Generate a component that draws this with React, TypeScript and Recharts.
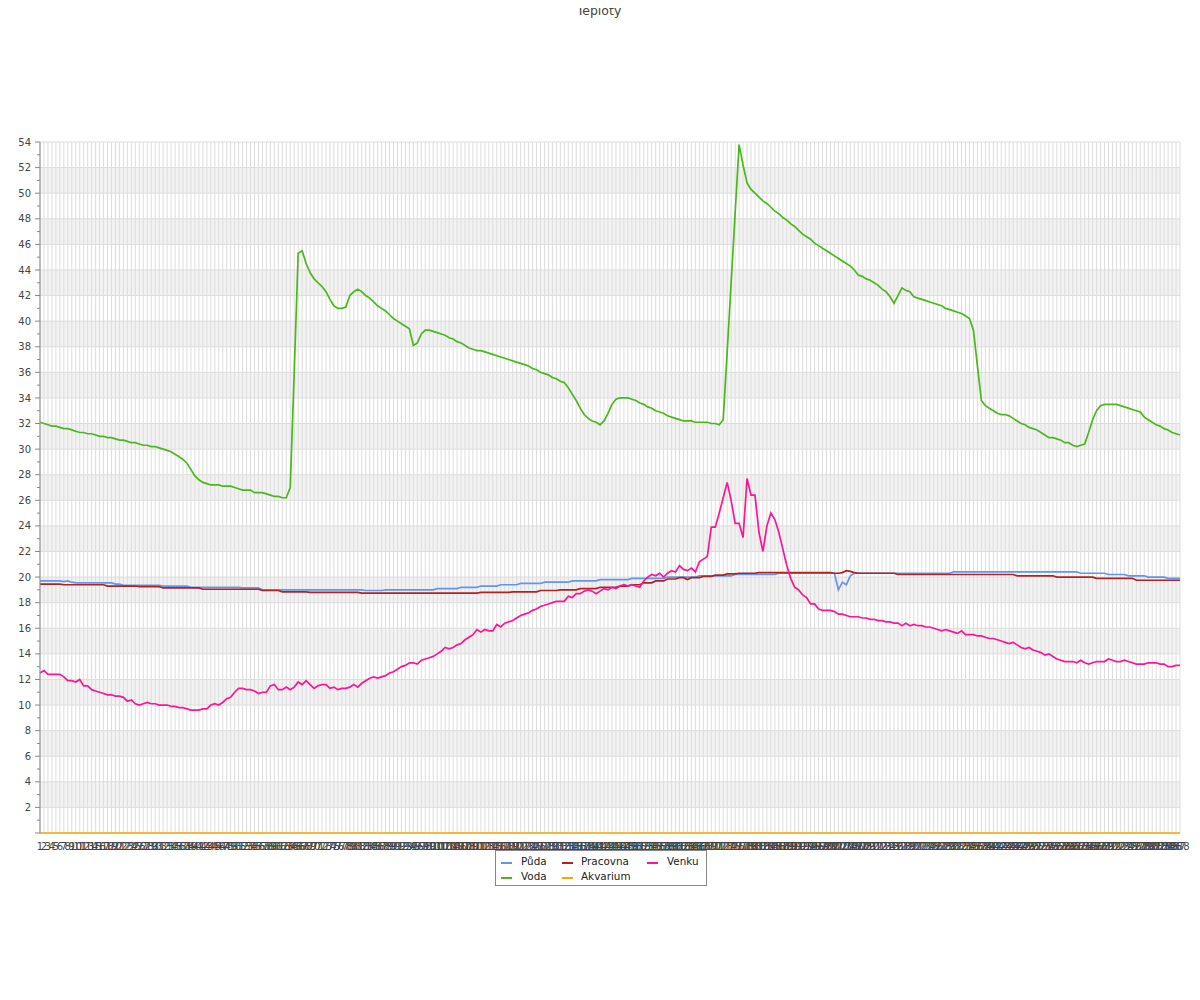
import React from 'react';
import { LineChart, Line, XAxis, YAxis, CartesianGrid } from 'recharts';

const labels: string[] = Array.from({ length: 288 }, (_, i) => String(i + 1));

const yTicks = [0,1,2,3,4,5,6,7,8,9,10,11,12,13,14,15,16,17,18,19,20,21,22,23,24,25,26,27,28,29,30,31,32,33,34,35,36,37,38,39,40,41,42,43,44,45,46,47,48,49,50,51,52,53,54];
const gridValues = [0,2,4,6,8,10,12,14,16,18,20,22,24,26,28,30,32,34,36,38,40,42,44,46,48,50,52,54];

const puda = [
  19.7,19.7,19.7,19.7,19.7,19.7,19.65,19.7,19.6,19.55,
  19.55,19.55,19.55,19.55,19.55,19.55,19.55,19.55,19.55,19.45,
  19.45,19.35,19.35,19.35,19.35,19.35,19.35,19.35,19.35,19.35,
  19.35,19.3,19.3,19.3,19.3,19.3,19.3,19.3,19.2,19.2,
  19.2,19.2,19.2,19.2,19.2,19.2,19.2,19.2,19.2,19.2,
  19.2,19.15,19.15,19.15,19.15,19.15,19.0,19.0,19.0,19.0,
  19.0,19.0,19.0,19.0,19.0,19.0,19.0,19.0,19.0,19.0,
  19.0,19.0,19.0,19.0,19.0,19.0,19.0,19.0,19.0,19.0,
  19.0,19.0,18.95,18.95,18.95,18.95,18.95,19.0,19.0,19.0,
  19.0,19.0,19.0,19.0,19.0,19.0,19.0,19.0,19.0,19.0,
  19.1,19.1,19.1,19.1,19.1,19.1,19.2,19.2,19.2,19.2,
  19.2,19.3,19.3,19.3,19.3,19.3,19.4,19.4,19.4,19.4,
  19.4,19.5,19.5,19.5,19.5,19.5,19.5,19.6,19.6,19.6,
  19.6,19.6,19.6,19.6,19.7,19.7,19.7,19.7,19.7,19.7,
  19.7,19.8,19.8,19.8,19.8,19.8,19.8,19.8,19.8,19.9,
  19.9,19.9,19.9,19.9,19.9,19.9,19.9,19.9,20.0,20.0,
  20.0,20.0,20.0,20.0,20.0,20.0,20.1,20.1,20.1,20.1,
  20.1,20.1,20.1,20.1,20.1,20.2,20.2,20.2,20.2,20.2,
  20.2,20.2,20.2,20.2,20.2,20.2,20.3,20.3,20.3,20.3,
  20.3,20.3,20.3,20.3,20.3,20.3,20.3,20.3,20.3,20.3,
  20.3,19.0,19.6,19.4,20.1,20.3,20.3,20.3,20.3,20.3,
  20.3,20.3,20.3,20.3,20.3,20.3,20.3,20.3,20.3,20.3,
  20.3,20.3,20.3,20.3,20.3,20.3,20.3,20.3,20.3,20.3,
  20.4,20.4,20.4,20.4,20.4,20.4,20.4,20.4,20.4,20.4,
  20.4,20.4,20.4,20.4,20.4,20.4,20.4,20.4,20.4,20.4,
  20.4,20.4,20.4,20.4,20.4,20.4,20.4,20.4,20.4,20.4,
  20.4,20.4,20.3,20.3,20.3,20.3,20.3,20.3,20.3,20.2,
  20.2,20.2,20.2,20.2,20.1,20.1,20.1,20.1,20.1,20.0,
  20.0,20.0,20.0,20.0,19.9,19.9,19.9,19.9,
];

const voda = [
  32.1,32.0,31.9,31.8,31.8,31.7,31.6,31.6,31.5,31.4,
  31.3,31.3,31.2,31.2,31.1,31.0,31.0,30.9,30.9,30.8,
  30.7,30.7,30.6,30.5,30.5,30.4,30.3,30.3,30.2,30.2,
  30.1,30.0,29.9,29.8,29.6,29.4,29.2,28.9,28.4,27.9,
  27.6,27.4,27.3,27.2,27.2,27.2,27.1,27.1,27.1,27.0,
  26.9,26.8,26.8,26.8,26.6,26.6,26.6,26.5,26.4,26.3,
  26.3,26.2,26.2,27.0,36.0,45.3,45.5,44.5,43.8,43.3,
  43.0,42.7,42.3,41.7,41.2,41.0,41.0,41.1,42.0,42.3,
  42.5,42.3,42.0,41.8,41.5,41.2,41.0,40.8,40.5,40.2,
  40.0,39.8,39.6,39.4,38.1,38.3,39.0,39.3,39.3,39.2,
  39.1,39.0,38.9,38.7,38.6,38.4,38.3,38.1,37.9,37.8,
  37.7,37.7,37.6,37.5,37.4,37.3,37.2,37.1,37.0,36.9,
  36.8,36.7,36.6,36.5,36.3,36.2,36.0,35.9,35.8,35.6,
  35.5,35.3,35.2,34.8,34.3,33.8,33.2,32.7,32.4,32.2,
  32.1,31.9,32.2,32.8,33.5,33.9,34.0,34.0,34.0,33.9,
  33.8,33.6,33.5,33.3,33.2,33.0,32.9,32.8,32.6,32.5,
  32.4,32.3,32.2,32.2,32.2,32.1,32.1,32.1,32.1,32.0,
  32.0,31.9,32.3,37.6,43.0,48.4,53.8,52.2,50.8,50.3,
  50.0,49.7,49.4,49.2,48.9,48.6,48.4,48.1,47.9,47.6,
  47.4,47.1,46.8,46.6,46.4,46.1,45.9,45.7,45.5,45.3,
  45.1,44.9,44.7,44.5,44.3,44.0,43.6,43.5,43.3,43.2,
  43.0,42.8,42.5,42.3,41.9,41.4,42.0,42.6,42.4,42.3,
  41.9,41.8,41.7,41.6,41.5,41.4,41.3,41.2,41.0,40.9,
  40.8,40.7,40.6,40.4,40.2,39.3,36.5,33.8,33.4,33.2,
  33.0,32.8,32.7,32.7,32.6,32.4,32.2,32.0,31.9,31.7,
  31.6,31.5,31.3,31.1,30.9,30.9,30.8,30.7,30.5,30.5,
  30.3,30.2,30.3,30.4,31.3,32.3,33.0,33.4,33.5,33.5,
  33.5,33.5,33.4,33.3,33.2,33.1,33.0,32.9,32.5,32.3,
  32.1,31.9,31.8,31.6,31.5,31.3,31.2,31.1,
];

const pracovna = [
  19.45,19.45,19.45,19.45,19.45,19.45,19.4,19.4,19.4,19.4,
  19.4,19.4,19.4,19.4,19.4,19.4,19.4,19.3,19.3,19.3,
  19.3,19.3,19.3,19.3,19.3,19.25,19.25,19.25,19.25,19.25,
  19.25,19.15,19.15,19.15,19.15,19.15,19.15,19.15,19.15,19.15,
  19.15,19.05,19.05,19.05,19.05,19.05,19.05,19.05,19.05,19.05,
  19.05,19.05,19.05,19.05,19.05,19.05,18.95,18.95,18.95,18.95,
  18.95,18.85,18.85,18.85,18.85,18.85,18.85,18.85,18.8,18.8,
  18.8,18.8,18.8,18.8,18.8,18.8,18.8,18.8,18.8,18.8,
  18.8,18.75,18.75,18.75,18.75,18.75,18.75,18.75,18.75,18.75,
  18.75,18.75,18.75,18.75,18.75,18.75,18.75,18.75,18.75,18.75,
  18.75,18.75,18.75,18.75,18.75,18.75,18.75,18.75,18.75,18.75,
  18.75,18.8,18.8,18.8,18.8,18.8,18.8,18.8,18.8,18.85,
  18.85,18.85,18.85,18.85,18.85,18.85,18.95,18.95,18.95,18.95,
  18.95,19.0,19.0,19.0,19.0,19.0,19.1,19.1,19.1,19.1,
  19.1,19.2,19.2,19.2,19.2,19.2,19.3,19.3,19.3,19.4,
  19.4,19.4,19.55,19.55,19.55,19.7,19.7,19.7,19.85,19.85,
  19.85,19.95,19.95,19.8,19.95,19.95,19.95,20.05,20.05,20.05,
  20.15,20.15,20.15,20.25,20.25,20.25,20.3,20.3,20.3,20.3,
  20.3,20.35,20.35,20.35,20.35,20.35,20.35,20.35,20.35,20.35,
  20.35,20.35,20.35,20.35,20.35,20.35,20.35,20.35,20.35,20.35,
  20.3,20.3,20.35,20.5,20.45,20.35,20.3,20.3,20.3,20.3,
  20.3,20.3,20.3,20.3,20.3,20.3,20.2,20.2,20.2,20.2,
  20.2,20.2,20.2,20.2,20.2,20.2,20.2,20.2,20.2,20.2,
  20.2,20.2,20.2,20.2,20.2,20.2,20.2,20.2,20.2,20.2,
  20.2,20.2,20.2,20.2,20.2,20.2,20.1,20.1,20.1,20.1,
  20.1,20.1,20.1,20.1,20.1,20.1,20.0,20.0,20.0,20.0,
  20.0,20.0,20.0,20.0,20.0,20.0,19.9,19.9,19.9,19.9,
  19.9,19.9,19.9,19.9,19.9,19.9,19.75,19.75,19.75,19.75,
  19.75,19.75,19.75,19.75,19.75,19.75,19.75,19.75,
];

const akvarium = [
  0,0,0,0,0,0,0,0,0,0,0,0,0,0,0,0,0,0,0,0,0,0,0,0,
  0,0,0,0,0,0,0,0,0,0,0,0,0,0,0,0,0,0,0,0,0,0,0,0,
  0,0,0,0,0,0,0,0,0,0,0,0,0,0,0,0,0,0,0,0,0,0,0,0,
  0,0,0,0,0,0,0,0,0,0,0,0,0,0,0,0,0,0,0,0,0,0,0,0,
  0,0,0,0,0,0,0,0,0,0,0,0,0,0,0,0,0,0,0,0,0,0,0,0,
  0,0,0,0,0,0,0,0,0,0,0,0,0,0,0,0,0,0,0,0,0,0,0,0,
  0,0,0,0,0,0,0,0,0,0,0,0,0,0,0,0,0,0,0,0,0,0,0,0,
  0,0,0,0,0,0,0,0,0,0,0,0,0,0,0,0,0,0,0,0,0,0,0,0,
  0,0,0,0,0,0,0,0,0,0,0,0,0,0,0,0,0,0,0,0,0,0,0,0,
  0,0,0,0,0,0,0,0,0,0,0,0,0,0,0,0,0,0,0,0,0,0,0,0,
  0,0,0,0,0,0,0,0,0,0,0,0,0,0,0,0,0,0,0,0,0,0,0,0,
  0,0,0,0,0,0,0,0,0,0,0,0,0,0,0,0,0,0,0,0,0,0,0,0,
];

const venku = [
  12.5,12.7,12.4,12.4,12.4,12.4,12.2,11.9,11.9,11.8,
  12.0,11.5,11.5,11.2,11.1,11.0,10.9,10.8,10.8,10.7,
  10.7,10.6,10.3,10.4,10.1,10.0,10.1,10.2,10.1,10.1,
  10.0,10.0,10.0,9.9,9.9,9.8,9.8,9.7,9.6,9.6,
  9.6,9.7,9.7,10.0,10.1,10.0,10.2,10.5,10.6,11.0,
  11.3,11.3,11.2,11.2,11.1,10.9,11.0,11.0,11.5,11.6,
  11.2,11.2,11.4,11.2,11.4,11.8,11.6,11.9,11.6,11.3,
  11.5,11.6,11.6,11.3,11.4,11.2,11.3,11.3,11.4,11.6,
  11.4,11.7,11.9,12.1,12.2,12.1,12.2,12.3,12.5,12.6,
  12.8,13.0,13.1,13.3,13.3,13.2,13.5,13.6,13.7,13.8,
  14.0,14.2,14.5,14.4,14.5,14.7,14.8,15.1,15.3,15.5,
  15.9,15.7,15.9,15.8,15.8,16.3,16.1,16.4,16.5,16.6,
  16.8,17.0,17.1,17.2,17.4,17.5,17.7,17.8,17.9,18.0,
  18.1,18.1,18.1,18.5,18.4,18.7,18.7,18.9,19.0,18.9,
  18.7,18.9,19.1,19.0,19.2,19.1,19.3,19.4,19.3,19.4,
  19.3,19.2,19.7,20.0,20.2,20.1,20.3,20.0,20.3,20.5,
  20.4,20.9,20.6,20.5,20.7,20.4,21.2,21.4,21.6,23.9,
  23.9,25.0,26.2,27.4,26.0,24.2,24.2,23.1,27.7,26.4,
  26.4,23.5,22.0,24.0,25.0,24.5,23.5,22.2,20.9,19.9,
  19.2,19.0,18.6,18.4,17.9,17.9,17.5,17.4,17.4,17.4,
  17.3,17.1,17.1,17.0,16.9,16.9,16.9,16.8,16.8,16.7,
  16.7,16.6,16.6,16.5,16.5,16.4,16.4,16.2,16.4,16.2,
  16.3,16.2,16.2,16.1,16.1,16.0,15.9,15.8,15.9,15.8,
  15.7,15.6,15.8,15.5,15.5,15.5,15.4,15.4,15.3,15.2,
  15.2,15.1,15.0,14.9,14.8,14.9,14.7,14.5,14.4,14.5,
  14.3,14.2,14.1,13.9,14.0,13.8,13.6,13.5,13.4,13.4,
  13.4,13.3,13.5,13.3,13.2,13.3,13.4,13.4,13.4,13.6,
  13.5,13.4,13.4,13.5,13.4,13.3,13.2,13.2,13.2,13.3,
  13.3,13.3,13.2,13.2,13.0,13.0,13.1,13.1,
];

const series = [
  { key: 'puda', name: 'Půda', color: '#6495ED' },
  { key: 'voda', name: 'Voda', color: '#4AB81A' },
  { key: 'pracovna', name: 'Pracovna', color: '#B22222' },
  { key: 'akvarium', name: 'Akvarium', color: '#FFA500' },
  { key: 'venku', name: 'Venku', color: '#FF1493' },
];

const data = labels.map((t, i) => ({
  t,
  puda: puda[i],
  voda: voda[i],
  pracovna: pracovna[i],
  akvarium: akvarium[i],
  venku: venku[i],
}));

const FONT = '"DejaVu Sans", sans-serif';

const YTick = (props: any) => {
  const { x, y, payload } = props;
  const v = payload.value as number;
  const ax = x + 9;
  const major = v % 2 === 0;
  return (
    <g>
      <line x1={major ? ax - 5 : ax - 3} x2={ax} y1={y} y2={y} stroke="#888" strokeWidth={1} />
      {major && v !== 0 && (
        <text x={x} y={y} dy="0.36em" textAnchor="end" fontSize={10} fill="#444" fontFamily={FONT}>
          {v}
        </text>
      )}
    </g>
  );
};

const XTick = (props: any) => {
  const { x, y, payload } = props;
  return (
    <text x={x} y={y + 9} textAnchor="middle" fontSize={10} fill="#444" fontFamily={FONT}>
      {payload.value}
    </text>
  );
};

const legendLayout = [
  { key: 'puda', col: 0, row: 0 },
  { key: 'pracovna', col: 1, row: 0 },
  { key: 'venku', col: 2, row: 0 },
  { key: 'voda', col: 0, row: 1 },
  { key: 'akvarium', col: 1, row: 1 },
];
const colIcon = [5, 66, 151];
const colText = [25, 85, 171];

export default function App() {
  return (
    <div style={{ position: 'relative', width: 1184, height: 984, fontFamily: FONT }}>
      <LineChart width={1184} height={900} data={data} margin={{ top: 134, right: 12, left: 0, bottom: 45 }}>
        <CartesianGrid
          stroke="#dddddd"
          horizontalValues={gridValues}
          horizontalFill={['#ffffff', '#f2f2f2']}
          fillOpacity={1}
        />
        <XAxis
          dataKey="t"
          interval={0}
          tickLine={false}
          axisLine={false}
          tick={<XTick />}
          height={30}
        />
        <YAxis
          type="number"
          domain={[0, 54]}
          ticks={yTicks}
          interval={0}
          width={32}
          tickLine={false}
          tickSize={5}
          tickMargin={4}
          axisLine={{ stroke: '#888' }}
          tick={<YTick />}
          allowDecimals={false}
        />
        {series.map((s) => (
          <Line
            key={s.key}
            dataKey={s.key}
            name={s.name}
            type="linear"
            stroke={s.color}
            strokeWidth={1.7}
            dot={false}
            activeDot={false}
            isAnimationActive={false}
          />
        ))}
      </LineChart>
      <svg
        width={1184}
        height={30}
        style={{ position: 'absolute', left: 0, top: -8, overflow: 'visible', zIndex: 5, pointerEvents: 'none' }}
      >
        <text x={591} y={14.5} textAnchor="middle" fontSize={12.5} fill="#444" fontFamily={FONT}>
          Teploty
        </text>
      </svg>
      <div
        style={{
          position: 'absolute',
          left: 487,
          top: 842,
          width: 212,
          height: 36,
          boxSizing: 'border-box',
          border: '1px solid #888',
          background: '#fff',
          fontSize: 10.4,
          lineHeight: '12px',
          color: '#222',
          zIndex: 5,
        }}
      >
        {legendLayout.map((l) => {
          const s = series.find((q) => q.key === l.key)!;
          return (
            <React.Fragment key={l.key}>
              <div
                style={{
                  position: 'absolute',
                  left: colIcon[l.col],
                  top: 10.5 + l.row * 15,
                  width: 11,
                  height: 2,
                  background: s.color,
                }}
              />
              <div
                style={{
                  position: 'absolute',
                  left: colText[l.col],
                  top: 3.5 + l.row * 15,
                  whiteSpace: 'nowrap',
                }}
              >
                {s.name}
              </div>
            </React.Fragment>
          );
        })}
      </div>
    </div>
  );
}
